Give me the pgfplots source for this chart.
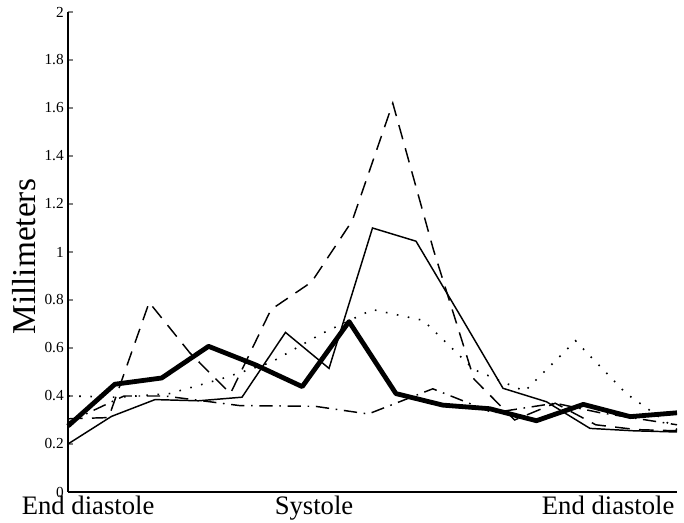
\documentclass[border=0pt]{standalone}
\usepackage{fontspec}
\setmainfont{Liberation Serif}
\usepackage{pgfplots}
\pgfplotsset{compat=1.18}
\begin{document}
\begin{tikzpicture}
\begin{axis}[
  scale only axis,
  width=456.75pt, height=360pt,
  xmin=0, xmax=1, ymin=0, ymax=2,
  axis x line=bottom, axis y line=left,
  axis line style={-, line width=1.2pt},
  ytick={0,0.2,0.4,0.6,0.8,1,1.2,1.4,1.6,1.8,2},
  yticklabels={0,0.2,0.4,0.6,0.8,1,1.2,1.4,1.6,1.8,2},
  ytick style={line width=0.9pt},
  tick align=inside,
  major tick length=4pt,
  yticklabel style={font=\fontsize{11.5}{13}\selectfont, inner sep=1pt, xshift=-2pt},
  xtick={0.033,0.404,0.887},
  xticklabels={End diastole,Systole,End diastole},
  xtick style={draw=none},
  xticklabel style={font=\fontsize{20}{24}\selectfont, inner sep=0pt, yshift=-3pt},
  ylabel={Millimeters},
  every axis y label/.style={font=\fontsize{25}{30}\selectfont, at={(axis description cs:-0.0722,0.49)}, rotate=90, anchor=center},
  clip=false,
]
% dash-dot
\addplot[black, line width=1.1pt, dash pattern=on 10pt off 5pt on 1.2pt off 5pt] coordinates {
(0,0.29) (0.092,0.40) (0.159,0.40) (0.282,0.36) (0.406,0.357) (0.493,0.325)
(0.599,0.43) (0.698,0.33) (0.80,0.37) (0.874,0.33) (1,0.28)};
% dotted
\addplot[black, line width=1.2pt, dash pattern=on 1.2pt off 7.2pt] coordinates {
(0,0.40) (0.0833,0.395) (0.1667,0.41) (0.25,0.47) (0.3333,0.54) (0.4167,0.66)
(0.5,0.76) (0.5833,0.715) (0.6667,0.51) (0.75,0.42) (0.8333,0.63) (0.9167,0.41) (1,0.26)};
% dashed
\addplot[black, line width=1.1pt, dash pattern=on 11pt off 7pt] coordinates {
(0,0.305) (0.0667,0.31) (0.1333,0.79) (0.2,0.58) (0.2667,0.41) (0.3333,0.76)
(0.4,0.875) (0.4667,1.13) (0.5333,1.62) (0.6,1.01) (0.6667,0.47) (0.7333,0.30)
(0.8,0.37) (0.8667,0.28) (0.9333,0.26) (1,0.255)};
% thin solid
\addplot[black, line width=1.1pt] coordinates {
(0,0.20) (0.0714,0.315) (0.1429,0.385) (0.2143,0.38) (0.2857,0.395) (0.3571,0.665)
(0.4286,0.515) (0.5,1.10) (0.5714,1.045) (0.6429,0.74) (0.7143,0.432) (0.7857,0.376)
(0.8571,0.265) (0.9286,0.255) (1,0.25)};
% thick solid
\addplot[black, line width=3.6pt, line join=round] coordinates {
(0,0.275) (0.0769,0.449) (0.1538,0.475) (0.2308,0.607) (0.3077,0.53) (0.3846,0.439)
(0.4615,0.71) (0.5385,0.41) (0.6154,0.362) (0.6923,0.347) (0.7692,0.297) (0.8462,0.365)
(0.9231,0.314) (1,0.33)};
\end{axis}
\path (current axis.south west) ++(-51pt,-23.25pt) rectangle ++(513pt,392.25pt);
\end{tikzpicture}
\end{document}
